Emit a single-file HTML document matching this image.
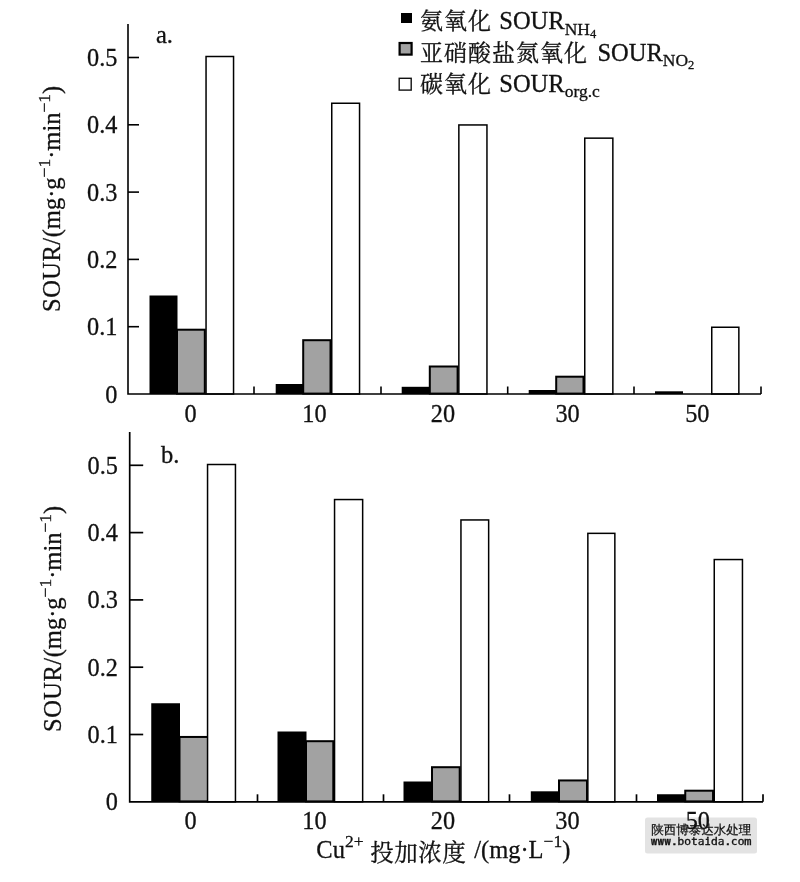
<!DOCTYPE html>
<html lang="zh"><head><meta charset="utf-8"><title>SOUR</title>
<style>
html,body{margin:0;padding:0;background:#fff;}
body{width:800px;height:882px;overflow:hidden;position:relative;font-family:"Liberation Serif","Noto Serif CJK SC",serif;}
svg{display:block;position:absolute;left:0;top:0;}
.t{font-family:"Liberation Serif","Noto Serif CJK SC",serif;font-size:24.5px;fill:#111;}
.k{font-family:"Liberation Serif",serif;font-size:26px;fill:#111;}
.c{font-family:"Liberation Serif","Noto Serif CJK SC",serif;font-size:24.5px;fill:#111;}
.s{font-size:17.5px;}
.cj{font-size:23px;letter-spacing:1px;}
text{stroke:#111;stroke-width:0.3px;}
.ss{font-size:12.5px;}
.w1{font-family:"WenQuanYi Zen Hei","Noto Sans CJK SC",sans-serif;font-size:12.5px;fill:#111;stroke:#111;stroke-width:0.25px;}
.w2{font-family:"WenQuanYi Zen Hei Mono","DejaVu Sans Mono","Liberation Mono",monospace;font-size:11.2px;fill:#111;stroke:#111;stroke-width:0.3px;}
</style></head><body>
<svg width="800" height="882" viewBox="0 0 800 882">
<rect width="800" height="882" fill="#fff"/>
<!-- top chart -->
<rect x="149.50" y="295.50" width="28.00" height="98.50" fill="#000"/>
<rect x="177.00" y="329.70" width="27.80" height="63.90" fill="#a2a2a2" stroke="#000" stroke-width="2.0"/>
<rect x="206.05" y="56.50" width="27.50" height="337.50" fill="#fff" stroke="#000" stroke-width="1.5"/>
<rect x="275.70" y="384.00" width="28.00" height="10.00" fill="#000"/>
<rect x="303.20" y="340.20" width="27.30" height="53.40" fill="#a2a2a2" stroke="#000" stroke-width="2.0"/>
<rect x="331.75" y="103.25" width="27.80" height="290.75" fill="#fff" stroke="#000" stroke-width="1.5"/>
<rect x="401.70" y="386.80" width="28.60" height="7.20" fill="#000"/>
<rect x="429.80" y="366.50" width="27.80" height="27.10" fill="#a2a2a2" stroke="#000" stroke-width="2.0"/>
<rect x="458.85" y="124.95" width="28.10" height="269.05" fill="#fff" stroke="#000" stroke-width="1.5"/>
<rect x="528.70" y="390.00" width="28.00" height="4.00" fill="#000"/>
<rect x="556.20" y="376.70" width="27.30" height="16.90" fill="#a2a2a2" stroke="#000" stroke-width="2.0"/>
<rect x="584.75" y="138.15" width="28.10" height="255.85" fill="#fff" stroke="#000" stroke-width="1.5"/>
<rect x="655.00" y="391.30" width="28.00" height="2.70" fill="#000"/>
<rect x="711.75" y="327.25" width="27.10" height="66.75" fill="#fff" stroke="#000" stroke-width="1.5"/>
<path d="M128 24V394H761" fill="none" stroke="#000" stroke-width="1.6"/>
<path d="M128 57.50h11" stroke="#000" stroke-width="1.6"/>
<path d="M128 124.80h11" stroke="#000" stroke-width="1.6"/>
<path d="M128 192.10h11" stroke="#000" stroke-width="1.6"/>
<path d="M128 259.40h11" stroke="#000" stroke-width="1.6"/>
<path d="M128 326.70h11" stroke="#000" stroke-width="1.6"/>
<path d="M254.00 394v-7.5" stroke="#000" stroke-width="1.6"/>
<path d="M381.00 394v-7.5" stroke="#000" stroke-width="1.6"/>
<path d="M507.70 394v-7.5" stroke="#000" stroke-width="1.6"/>
<path d="M634.00 394v-7.5" stroke="#000" stroke-width="1.6"/>
<path d="M761.00 394v-7.5" stroke="#000" stroke-width="1.6"/>
<text transform="translate(117.5,66.00) scale(0.935,1)" text-anchor="end" class="k">0.5</text>
<text transform="translate(117.5,133.30) scale(0.935,1)" text-anchor="end" class="k">0.4</text>
<text transform="translate(117.5,200.60) scale(0.935,1)" text-anchor="end" class="k">0.3</text>
<text transform="translate(117.5,267.90) scale(0.935,1)" text-anchor="end" class="k">0.2</text>
<text transform="translate(117.5,335.20) scale(0.935,1)" text-anchor="end" class="k">0.1</text>
<text transform="translate(117.5,402.50) scale(0.935,1)" text-anchor="end" class="k">0</text>
<text transform="translate(190.5,421.5) scale(0.935,1)" text-anchor="middle" class="k">0</text>
<text transform="translate(314.5,421.5) scale(0.935,1)" text-anchor="middle" class="k">10</text>
<text transform="translate(443,421.5) scale(0.935,1)" text-anchor="middle" class="k">20</text>
<text transform="translate(567.6,421.5) scale(0.935,1)" text-anchor="middle" class="k">30</text>
<text transform="translate(697.3,421.5) scale(0.935,1)" text-anchor="middle" class="k">50</text>
<text x="156" y="43" class="t">a.</text>
<text transform="translate(59.7,312) rotate(-90)" class="t"><tspan letter-spacing="0.5">SOUR/</tspan>(mg·g<tspan class="s" dy="-10">−1</tspan><tspan dy="10">·min</tspan><tspan class="s" dy="-10">−1</tspan><tspan dy="10">)</tspan></text>
<!-- legend -->
<rect x="401" y="13" width="11" height="10" fill="#000"/>
<rect x="399.6" y="43" width="12" height="11.6" fill="#a2a2a2" stroke="#000" stroke-width="2.2"/>
<rect x="399.2" y="78.3" width="12" height="11.8" fill="#fff" stroke="#111" stroke-width="1.4"/>
<text x="420" y="29" class="c"><tspan class="cj">氨氧化 </tspan><tspan x="499.3">SOUR</tspan><tspan class="s" dy="5.5">NH</tspan><tspan class="ss" dy="3">4</tspan></text>
<text x="420" y="60.5" class="c"><tspan class="cj">亚硝酸盐氮氧化 </tspan><tspan x="597.4">SOUR</tspan><tspan class="s" dy="5.5">NO</tspan><tspan class="ss" dy="3">2</tspan></text>
<text x="420" y="91.5" class="c"><tspan class="cj">碳氧化 </tspan><tspan x="499.3">SOUR</tspan><tspan class="s" dy="5.5">org.c</tspan></text>
<!-- bottom chart -->
<rect x="151.25" y="703.25" width="28.75" height="98.55" fill="#000"/>
<rect x="179.50" y="736.95" width="28.50" height="64.45" fill="#a2a2a2" stroke="#000" stroke-width="2.0"/>
<rect x="207.55" y="464.50" width="27.90" height="337.30" fill="#fff" stroke="#000" stroke-width="1.5"/>
<rect x="277.50" y="731.50" width="29.00" height="70.30" fill="#000"/>
<rect x="306.00" y="741.20" width="27.30" height="60.20" fill="#a2a2a2" stroke="#000" stroke-width="2.0"/>
<rect x="334.55" y="499.55" width="28.10" height="302.25" fill="#fff" stroke="#000" stroke-width="1.5"/>
<rect x="403.50" y="781.50" width="29.00" height="20.30" fill="#000"/>
<rect x="432.00" y="767.20" width="27.70" height="34.20" fill="#a2a2a2" stroke="#000" stroke-width="2.0"/>
<rect x="460.95" y="519.95" width="27.70" height="281.85" fill="#fff" stroke="#000" stroke-width="1.5"/>
<rect x="530.80" y="791.30" width="28.70" height="10.50" fill="#000"/>
<rect x="559.00" y="780.45" width="28.00" height="20.95" fill="#a2a2a2" stroke="#000" stroke-width="2.0"/>
<rect x="587.85" y="533.35" width="27.00" height="268.45" fill="#fff" stroke="#000" stroke-width="1.5"/>
<rect x="657.00" y="794.25" width="28.75" height="7.55" fill="#000"/>
<rect x="685.25" y="790.70" width="27.80" height="10.70" fill="#a2a2a2" stroke="#000" stroke-width="2.0"/>
<rect x="714.25" y="559.55" width="28.20" height="242.25" fill="#fff" stroke="#000" stroke-width="1.5"/>
<path d="M129.7 432V801.8H763" fill="none" stroke="#000" stroke-width="1.7"/>
<path d="M129.7 465.30h13.5" stroke="#000" stroke-width="1.7"/>
<path d="M129.7 532.60h13.5" stroke="#000" stroke-width="1.7"/>
<path d="M129.7 599.90h13.5" stroke="#000" stroke-width="1.7"/>
<path d="M129.7 667.20h13.5" stroke="#000" stroke-width="1.7"/>
<path d="M129.7 734.50h13.5" stroke="#000" stroke-width="1.7"/>
<path d="M257.50 801.8v-7.5" stroke="#000" stroke-width="1.7"/>
<path d="M383.50 801.8v-7.5" stroke="#000" stroke-width="1.7"/>
<path d="M509.50 801.8v-7.5" stroke="#000" stroke-width="1.7"/>
<path d="M636.50 801.8v-7.5" stroke="#000" stroke-width="1.7"/>
<path d="M763.00 801.8v-7.5" stroke="#000" stroke-width="1.7"/>
<text transform="translate(118,473.80) scale(0.935,1)" text-anchor="end" class="k">0.5</text>
<text transform="translate(118,541.10) scale(0.935,1)" text-anchor="end" class="k">0.4</text>
<text transform="translate(118,608.40) scale(0.935,1)" text-anchor="end" class="k">0.3</text>
<text transform="translate(118,675.70) scale(0.935,1)" text-anchor="end" class="k">0.2</text>
<text transform="translate(118,743.00) scale(0.935,1)" text-anchor="end" class="k">0.1</text>
<text transform="translate(118,810.30) scale(0.935,1)" text-anchor="end" class="k">0</text>
<rect x="645" y="817.6" width="112" height="35.8" rx="2.5" fill="#e3e3e3"/>
<text transform="translate(190.5,829.3) scale(0.935,1)" text-anchor="middle" class="k">0</text>
<text transform="translate(314.5,829.3) scale(0.935,1)" text-anchor="middle" class="k">10</text>
<text transform="translate(443,829.3) scale(0.935,1)" text-anchor="middle" class="k">20</text>
<text transform="translate(567.5,829.3) scale(0.935,1)" text-anchor="middle" class="k">30</text>
<text transform="translate(697.8,829.3) scale(0.935,1)" text-anchor="middle" class="k">50</text>
<text x="161" y="463" class="t">b.</text>
<text transform="translate(60.5,732) rotate(-90)" class="t"><tspan letter-spacing="0.5">SOUR/</tspan>(mg·g<tspan class="s" dy="-10">−1</tspan><tspan dy="10">·min</tspan><tspan class="s" dy="-10">−1</tspan><tspan dy="10">)</tspan></text>
<text x="316.3" y="858" class="t">Cu<tspan class="s" dy="-11">2+</tspan><tspan class="cj" style="font-size:23.5px;letter-spacing:0.5px" dy="14" x="370.3">投加浓度 </tspan><tspan dy="-3" x="474.2">/(mg·L</tspan><tspan class="s" dy="-11.5">−1</tspan><tspan dy="11.5">)</tspan></text>
<text x="651.3" y="834.3" class="w1" textLength="100" lengthAdjust="spacingAndGlyphs">陕西博泰达水处理</text>
<text x="650.8" y="844.8" class="w2" textLength="100.4" lengthAdjust="spacingAndGlyphs">www.botaida.com</text>
</svg>
</body></html>
